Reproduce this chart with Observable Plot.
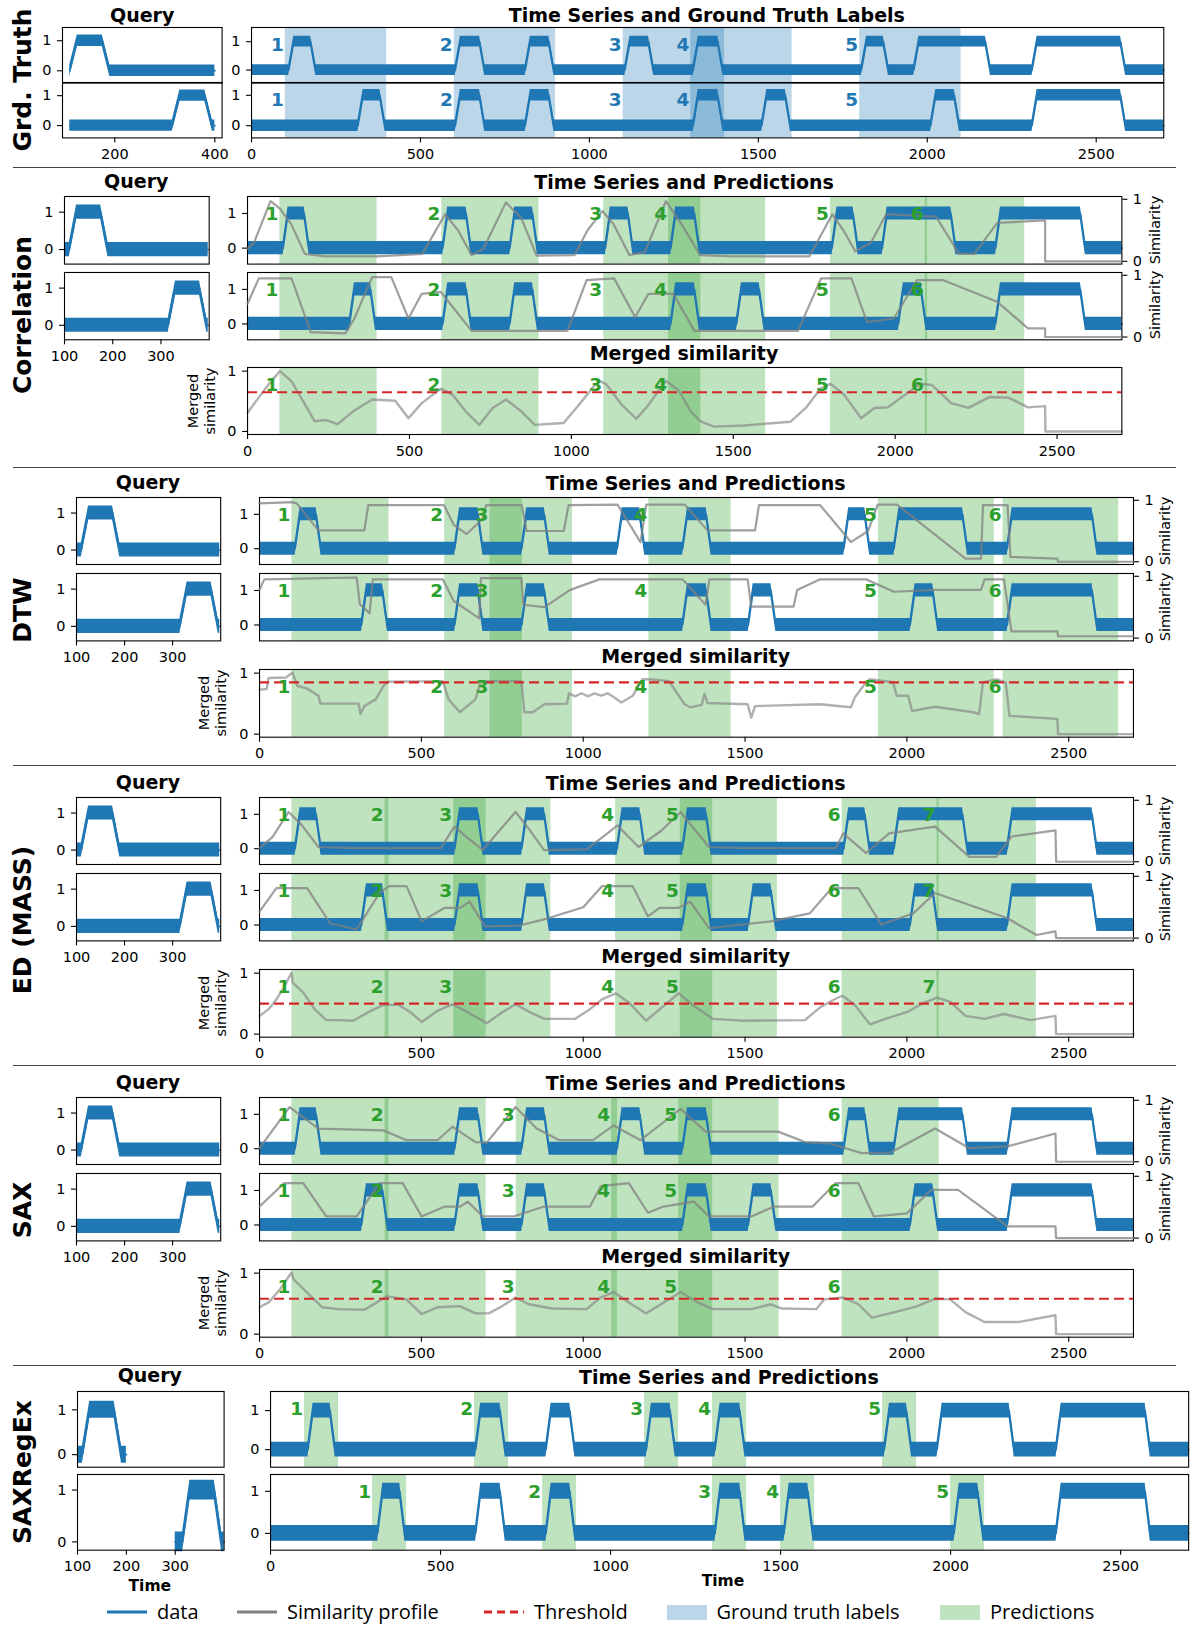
<!DOCTYPE html>
<html>
<head>
<meta charset="utf-8">
<script src="https://cdn.jsdelivr.net/npm/d3@7"></script>
<script src="https://cdn.jsdelivr.net/npm/@observablehq/plot@0.6"></script>
<style>
html,body{margin:0;padding:0;background:#fff;}
#fig{position:relative;width:1190px;height:1625px;overflow:hidden;background:#fff;font-family:"DejaVu Sans",sans-serif;color:#000;}
.txt{position:absolute;white-space:nowrap;line-height:1;transform:translate(-50%,-50%);}
.title{font-weight:bold;font-size:19px;}
.sec{font-weight:bold;font-size:25px;transform:translate(-50%,-50%) rotate(-90deg);}
.ylab{font-size:14.5px;transform:translate(-50%,-50%) rotate(-90deg);text-align:center;line-height:1.2;}
.xlab{font-weight:bold;font-size:15.5px;}
.sep{position:absolute;left:13px;width:1163px;height:0;border-top:1.4px solid #444;}
.leg{position:absolute;font-family:"Open Sans",sans-serif;font-size:20px;white-space:nowrap;line-height:1;transform:translateY(-50%);}
</style>
</head>
<body>
<div id="fig"></div>
<script>
// ---------------- DATA ----------------
// time series key points [time, value]
const seriesA = [[0,0],[110,0],[125,1],[175,1],[190,0],[603,0],[618,1],[675,1],[690,0],[810,0],[825,1],[880,1],[895,0],[1105,0],[1120,1],[1175,1],[1190,0],[1307,0],[1322,1],[1380,1],[1395,0],[1805,0],[1820,1],[1870,1],[1885,0],[1960,0],[1975,1],[2172,1],[2187,0],[2310,0],[2325,1],[2572,1],[2587,0],[2700,0]];
const seriesB = [[0,0],[315,0],[330,1],[380,1],[395,0],[603,0],[618,1],[675,1],[690,0],[810,0],[825,1],[880,1],[895,0],[1307,0],[1322,1],[1380,1],[1395,0],[1510,0],[1525,1],[1580,1],[1595,0],[2010,0],[2025,1],[2080,1],[2095,0],[2310,0],[2325,1],[2572,1],[2587,0],[2700,0]];
const noiseHalfWidth = 0.19;

// query windows (time ranges of the series)
const gtQueryRange = [110, 400];
const queryRange = [100, 398];
const regexQueryRangeA = [100, 200];
const regexQueryRangeB = [300, 400];

// labelled / predicted windows [start, end]
const gtSpans = [[100,400],[600,900],[1100,1400],[1300,1600],[1800,2100]];
const corrSpans = [[100,400],[600,900],[1100,1400],[1300,1600],[1800,2100],[2093,2400]];
const dtwSpans = [[100,400],[572,812],[712,967],[1203,1457],[1912,2270],[2297,2654]];
const edSpans = [[100,400],[388,700],[600,900],[1100,1400],[1300,1600],[1800,2100],[2093,2400]];
const saxSpans = [[100,400],[388,700],[793,1106],[1088,1400],[1295,1605],[1800,2100]];
const regexSpansA = [[100,200],[600,700],[1100,1200],[1300,1400],[1800,1900]];
const regexSpansB = [[300,400],[800,900],[1300,1400],[1500,1600],[2000,2100]];

// thresholds
const corrThreshold = 0.65, dtwThreshold = 0.85, edThreshold = 0.5, saxThreshold = 0.58;

// similarity profiles [time, similarity]
const corrSimA = [[0,0.2],[20,0.3],[71,0.97],[100,0.85],[135,0.6],[177,0.12],[240,0.08],[400,0.08],[540,0.12],[610,0.76],[650,0.5],[692,0.1],[728,0.2],[798,0.95],[845,0.7],[893,0.09],[1010,0.1],[1050,0.5],[1096,0.81],[1130,0.6],[1179,0.1],[1227,0.15],[1292,0.97],[1340,0.6],[1398,0.1],[1500,0.08],[1735,0.08],[1806,0.76],[1840,0.5],[1877,0.16],[1925,0.3],[1972,0.76],[2126,0.72],[2197,0.12],[2244,0.12],[2315,0.62],[2463,0.66],[2463,0],[2700,0]];
const corrSimB = [[0,0.54],[35,0.95],[136,0.95],[195,0.08],[302,0.06],[330,0.3],[385,0.97],[444,0.97],[497,0.3],[538,0.7],[597,0.73],[692,0.1],[988,0.1],[1047,0.92],[1132,0.95],[1197,0.32],[1238,0.7],[1315,0.7],[1380,0.1],[1700,0.1],[1771,0.95],[1865,0.95],[1913,0.24],[1996,0.3],[2067,0.92],[2149,0.92],[2315,0.57],[2410,0.14],[2463,0.14],[2463,0],[2700,0]];
const corrMerged = [[0,0.31],[41,0.61],[65,0.78],[100,1.0],[136,0.83],[172,0.5],[207,0.17],[243,0.19],[278,0.12],[325,0.33],[385,0.53],[456,0.51],[497,0.22],[538,0.47],[597,0.71],[633,0.61],[674,0.33],[716,0.11],[757,0.39],[798,0.53],[846,0.33],[887,0.11],[976,0.14],[1023,0.44],[1071,0.76],[1090,0.83],[1108,0.78],[1156,0.44],[1201,0.21],[1238,0.44],[1292,0.84],[1333,0.67],[1369,0.33],[1398,0.17],[1440,0.08],[1534,0.1],[1676,0.16],[1724,0.39],[1771,0.72],[1800,0.79],[1842,0.61],[1895,0.22],[1936,0.39],[1978,0.4],[2031,0.61],[2078,0.79],[2114,0.77],[2173,0.47],[2226,0.39],[2291,0.57],[2350,0.56],[2410,0.4],[2463,0.42],[2464,0],[2700,0]];

const dtwSimA = [[0,0.95],[100,0.97],[115,0.95],[182,0.51],[324,0.51],[336,0.92],[570,0.92],[600,0.6],[640,0.45],[690,0.7],[700,0.92],[810,0.92],[825,0.5],[940,0.5],[955,0.92],[1106,0.93],[1177,0.32],[1195,0.93],[1313,0.93],[1384,0.51],[1531,0.51],[1543,0.92],[1732,0.92],[1827,0.32],[1880,0.5],[1910,0.93],[1969,0.93],[2181,0.05],[2229,0.05],[2235,0.92],[2311,0.92],[2320,0.08],[2465,0.05],[2467,0],[2700,0]];
const dtwSimB = [[0,0.78],[15,0.95],[300,0.98],[310,0.55],[340,0.4],[350,0.95],[566,0.95],[600,0.6],[679,0.32],[684,0.97],[809,0.97],[815,0.54],[880,0.5],[960,0.78],[1050,0.95],[1307,0.95],[1378,0.54],[1390,0.95],[1508,0.95],[1519,0.51],[1650,0.51],[1661,0.78],[1732,0.95],[1874,0.95],[1960,0.75],[2087,0.78],[2229,0.78],[2240,0.95],[2300,0.95],[2323,0.11],[2465,0.11],[2467,0.03],[2700,0.03]];
const dtwMerged = [[0,0.73],[22,0.74],[28,0.92],[82,0.93],[102,1.01],[117,0.79],[147,0.75],[182,0.63],[188,0.5],[306,0.5],[312,0.33],[324,0.46],[359,0.57],[383,0.79],[397,0.86],[566,0.87],[584,0.57],[619,0.36],[667,0.57],[684,0.87],[809,0.87],[818,0.36],[844,0.36],[880,0.49],[950,0.5],[956,0.67],[975,0.62],[995,0.67],[1015,0.62],[1035,0.67],[1055,0.63],[1075,0.67],[1088,0.63],[1118,0.52],[1153,0.63],[1183,0.9],[1203,0.9],[1265,0.87],[1313,0.49],[1330,0.44],[1366,0.48],[1375,0.66],[1384,0.51],[1508,0.49],[1519,0.27],[1531,0.46],[1732,0.49],[1827,0.44],[1839,0.6],[1874,0.85],[1886,0.9],[1957,0.85],[1969,0.63],[2004,0.63],[2016,0.38],[2087,0.45],[2205,0.36],[2223,0.33],[2235,0.85],[2276,0.9],[2305,0.85],[2317,0.3],[2465,0.25],[2467,0],[2700,0]];

const edSimA = [[0,0.22],[40,0.4],[90,0.81],[130,0.6],[182,0.24],[300,0.22],[560,0.22],[602,0.57],[640,0.4],[690,0.19],[740,0.5],[791,0.81],[830,0.55],[879,0.19],[1010,0.2],[1060,0.4],[1106,0.59],[1171,0.24],[1240,0.5],[1301,0.81],[1340,0.55],[1389,0.24],[1500,0.22],[1780,0.22],[1803,0.46],[1874,0.14],[1945,0.46],[2087,0.57],[2193,0.08],[2276,0.08],[2323,0.41],[2459,0.51],[2461,0],[2700,0]];
const edSimB = [[0,0.43],[52,0.81],[147,0.81],[218,0.24],[300,0.14],[371,0.73],[400,0.84],[454,0.84],[501,0.27],[572,0.49],[620,0.49],[649,0.59],[696,0.19],[800,0.2],[891,0.32],[1000,0.5],[1058,0.84],[1153,0.84],[1200,0.35],[1236,0.49],[1295,0.49],[1330,0.59],[1389,0.16],[1579,0.27],[1700,0.4],[1768,0.81],[1850,0.81],[1921,0.22],[2020,0.4],[2087,0.73],[2311,0.32],[2400,0.05],[2459,0.11],[2461,0],[2700,0]];
const edMerged = [[0,0.3],[28,0.41],[52,0.57],[76,0.77],[99,1.01],[102,0.85],[135,0.68],[170,0.41],[206,0.23],[241,0.23],[289,0.22],[336,0.36],[383,0.48],[430,0.48],[466,0.36],[501,0.2],[549,0.38],[596,0.49],[643,0.36],[702,0.18],[750,0.36],[791,0.49],[832,0.37],[879,0.25],[974,0.25],[1021,0.41],[1058,0.57],[1100,0.67],[1141,0.52],[1194,0.22],[1248,0.46],[1295,0.67],[1342,0.46],[1401,0.25],[1496,0.22],[1685,0.23],[1732,0.44],[1780,0.58],[1801,0.63],[1839,0.48],[1886,0.16],[1933,0.25],[2004,0.37],[2051,0.51],[2093,0.6],[2134,0.53],[2181,0.3],[2240,0.25],[2300,0.33],[2382,0.23],[2459,0.3],[2461,0],[2700,0]];

const saxSimA = [[0,0.22],[93,0.89],[182,0.54],[383,0.51],[454,0.35],[550,0.35],[596,0.57],[667,0.32],[702,0.31],[791,0.89],[856,0.54],[927,0.35],[1030,0.35],[1094,0.59],[1177,0.35],[1301,0.86],[1378,0.49],[1602,0.49],[1685,0.32],[1760,0.3],[1860,0.14],[1950,0.15],[2087,0.54],[2193,0.22],[2311,0.25],[2459,0.46],[2461,0],[2700,0]];
const saxSimB = [[0,0.51],[76,0.89],[135,0.89],[206,0.35],[300,0.35],[371,0.89],[442,0.89],[501,0.35],[572,0.51],[620,0.51],[643,0.59],[690,0.35],[785,0.35],[879,0.51],[1021,0.51],[1054,0.84],[1141,0.89],[1200,0.41],[1248,0.51],[1342,0.59],[1389,0.35],[1519,0.35],[1590,0.51],[1709,0.51],[1780,0.89],[1850,0.89],[1898,0.35],[2000,0.4],[2075,0.78],[2158,0.78],[2311,0.19],[2459,0.19],[2461,0],[2700,0]];
const saxMerged = [[0,0.44],[28,0.52],[64,0.74],[99,1.01],[105,0.9],[147,0.68],[194,0.44],[241,0.41],[324,0.4],[371,0.55],[395,0.62],[454,0.57],[501,0.33],[549,0.44],[619,0.46],[667,0.34],[708,0.34],[750,0.46],[791,0.6],[832,0.49],[903,0.42],[1010,0.41],[1054,0.6],[1094,0.69],[1141,0.52],[1194,0.34],[1259,0.55],[1301,0.69],[1354,0.52],[1401,0.41],[1519,0.41],[1579,0.49],[1614,0.42],[1720,0.41],[1744,0.57],[1803,0.6],[1850,0.49],[1892,0.27],[1969,0.37],[2028,0.45],[2087,0.58],[2134,0.57],[2181,0.36],[2240,0.2],[2347,0.2],[2459,0.31],[2461,0],[2700,0]];

// ticks
const timeTicks = [0,500,1000,1500,2000,2500];
const gtQueryTicks = [200,400];
const queryTicks = [100,200,300];
const valueTicks = [0,1];

// text
const sectionNames = ["Grd. Truth","Correlation","DTW","ED (MASS)","SAX","SAXRegEx"];
const legendLabels = ["data","Similarity profile","Threshold","Ground truth labels","Predictions"];

// ---------------- LAYOUT / STYLE ----------------
const BLUE="#1f77b4", GREEN="#2ca02c", GRAY="#808080", RED="#d62728";
const TIME_DOMAIN=[0,2700], SIM_Y=[-0.045,1.045], MERGED_Y=[-0.05,1.06];
const MAIN_Y=[-0.46,1.49], QUERY_Y=[-0.39,1.42];
const fig = document.getElementById("fig");
const fmtInt = d3.format("d");

function shiftLay(l, dy, secY){
  const s = a => [a[0]+dy, a[1]+dy];
  return {...l, rowA:s(l.rowA), rowB:s(l.rowB), merged:s(l.merged), titleY:l.titleY+dy, mergedTitleY:l.mergedTitleY+dy, secY};
}
const LAY = {
  gt:{q:[62.4,222], m:[250.7,1163], rowA:[26.7,82.3], rowB:[82.3,137.7], titleY:14.5, secY:80},
  corr:{q:[63.9,208.6], m:[246.8,1121.2], rowA:[195.7,263.3], rowB:[271.7,339], merged:[367.3,434.3], titleY:181, mergedTitleY:353.3, secY:315, mergedLabX:201.8, simLabX:1156.4},
  dtw:{q:[75.8,220], m:[258.7,1132.7], rowA:[497.3,564.3], rowB:[573.3,640.7], merged:[669,736.7], titleY:482, mergedTitleY:655.7, secY:610, mergedLabX:213.4, simLabX:1166},
  regex:{q:[76.5,223.1], m:[269.8,1188], rowA:[1391,1466.7], rowB:[1474.3,1550], titleY:1376, secY:1471.7}
};
LAY.ed = shiftLay(LAY.dtw, 300, 920);
LAY.sax = shiftLay(LAY.dtw, 600, 1210);

function valueAt(series, t){
  for (let i=1;i<series.length;i++){
    const [t0,v0]=series[i-1], [t1,v1]=series[i];
    if (t<=t1) return t1===t0 ? v1 : v0+(v1-v0)*(t-t0)/(t1-t0);
  }
  return series[series.length-1][1];
}
function slice(series, r){
  return [[r[0], valueAt(series,r[0])], ...series.filter(d=>d[0]>r[0]&&d[0]<r[1]), [r[1], valueAt(series,r[1])]];
}

function addText(str, x, y, cls){
  const d = document.createElement("div");
  d.className = "txt " + cls;
  d.style.left = x+"px"; d.style.top = y+"px";
  d.innerHTML = str;
  fig.appendChild(d);
  return d;
}

const axisStyle = {tickSize: 5, tickPadding: 6, fontSize: 14.5, tickFormat: fmtInt, label: null, strokeWidth: 1.1};
function plotBox(xr, yr, o, marks){
  const ml=60, mr=60, mt=20, mb=40;
  const all = [...marks];
  if (o.xTicks) all.push(Plot.axisX({...axisStyle, ticks: o.xTicks}));
  if (o.yTicks) all.push(Plot.axisY({...axisStyle, ticks: o.yTicks, anchor: o.yAxis || "left"}));
  const svg = Plot.plot({
    width: xr[1]-xr[0]+ml+mr, height: yr[1]-yr[0]+mt+mb,
    marginLeft: ml, marginRight: mr, marginTop: mt, marginBottom: mb,
    style: {fontFamily:'"DejaVu Sans", sans-serif', fontSize:"14.5px", color:"#000", background:"transparent", overflow:"visible"},
    x: {domain: o.xDomain, axis: null},
    y: {domain: o.yDomain, axis: null},
    marks: all
  });
  svg.style.position = "absolute";
  svg.style.left = (xr[0]-ml)+"px";
  svg.style.top = (yr[0]-mt)+"px";
  svg.style.maxWidth = "none";
  fig.appendChild(svg);
}

const frame = () => Plot.frame({stroke:"#000", strokeWidth:1.1});
function dataMarks(s){
  return [
    Plot.area(s, {x1: d=>d[0], y1: d=>d[1]-noiseHalfWidth, y2: d=>d[1]+noiseHalfWidth, fill: BLUE, fillOpacity: 1}),
    Plot.line(s, {x: d=>d[0], y: d=>d[1], stroke: BLUE, strokeWidth: 1.8})
  ];
}
function spanMarks(spans, color, yd){
  return Plot.rect(spans, {x1: d=>d[0], x2: d=>d[1], y1: () => yd[0], y2: () => yd[1], fill: color, fillOpacity: 0.3});
}
function numberMarks(spans, color){
  return Plot.text(spans, {x: d=>d[0], text: (d,i)=>String(i+1), frameAnchor:"top", dy: 10, dx: -1.5, textAnchor:"end", fill: color, fontWeight:"bold", fontSize: 18.5});
}

function queryPanel(L, row, s, qDomain, yd, ticks){
  plotBox(L.q, row, {xDomain: qDomain, yDomain: yd, xTicks: ticks, yTicks: valueTicks}, [...dataMarks(s), frame()]);
}

// ---------------- Ground truth section ----------------
(function(){
  const L = LAY.gt;
  const qd = [95.5, 414.5];
  queryPanel(L, L.rowA, slice(seriesA, gtQueryRange), qd, [-0.41,1.44], null);
  queryPanel(L, L.rowB, slice(seriesB, gtQueryRange), qd, [-0.41,1.44], gtQueryTicks);
  const ydA=[-0.46,1.5], ydB=[-0.4,1.42];
  plotBox(L.m, L.rowA, {xDomain: TIME_DOMAIN, yDomain: ydA, yTicks: valueTicks},
    [spanMarks(gtSpans, BLUE, ydA), ...dataMarks(seriesA), numberMarks(gtSpans, BLUE), frame()]);
  plotBox(L.m, L.rowB, {xDomain: TIME_DOMAIN, yDomain: ydB, xTicks: timeTicks, yTicks: valueTicks},
    [spanMarks(gtSpans, BLUE, ydB), ...dataMarks(seriesB), numberMarks(gtSpans, BLUE), frame()]);
  addText("Query", (L.q[0]+L.q[1])/2, L.titleY, "title");
  addText("Time Series and Ground Truth Labels", (L.m[0]+L.m[1])/2, L.titleY+0.5, "title");
  addText(sectionNames[0], 22, L.secY, "sec");
})();

// ---------------- Method sections ----------------
const methods = [
  {name: sectionNames[1], L: LAY.corr, spans: corrSpans, simA: corrSimA, simB: corrSimB, merged: corrMerged, thr: corrThreshold},
  {name: sectionNames[2], L: LAY.dtw, spans: dtwSpans, simA: dtwSimA, simB: dtwSimB, merged: dtwMerged, thr: dtwThreshold},
  {name: sectionNames[3], L: LAY.ed, spans: edSpans, simA: edSimA, simB: edSimB, merged: edMerged, thr: edThreshold},
  {name: sectionNames[4], L: LAY.sax, spans: saxSpans, simA: saxSimA, simB: saxSimB, merged: saxMerged, thr: saxThreshold}
];
for (const M of methods){
  const L = M.L;
  const qd = [100, 400];
  queryPanel(L, L.rowA, slice(seriesA, queryRange), qd, QUERY_Y, null);
  queryPanel(L, L.rowB, slice(seriesB, queryRange), qd, QUERY_Y, queryTicks);
  [[L.rowA, seriesA, M.simA], [L.rowB, seriesB, M.simB]].forEach(([row, s, sim]) => {
    plotBox(L.m, row, {xDomain: TIME_DOMAIN, yDomain: MAIN_Y, yTicks: valueTicks},
      [spanMarks(M.spans, GREEN, MAIN_Y), ...dataMarks(s), frame()]);
    plotBox(L.m, row, {xDomain: TIME_DOMAIN, yDomain: SIM_Y, yTicks: valueTicks, yAxis: "right"},
      [Plot.line(sim, {x: d=>d[0], y: d=>d[1], stroke: GRAY, strokeWidth: 2.2, strokeOpacity: 0.75}),
       numberMarks(M.spans, GREEN)]);
    addText("Similarity", L.simLabX, (row[0]+row[1])/2, "ylab");
  });
  plotBox(L.m, L.merged, {xDomain: TIME_DOMAIN, yDomain: MERGED_Y, xTicks: timeTicks, yTicks: valueTicks},
    [spanMarks(M.spans, GREEN, MERGED_Y),
     Plot.line(M.merged, {x: d=>d[0], y: d=>d[1], stroke: GRAY, strokeWidth: 2.4, strokeOpacity: 0.62}),
     Plot.ruleY([M.thr], {stroke: RED, strokeWidth: 2.2, strokeDasharray: "10,5"}),
     numberMarks(M.spans, GREEN), frame()]);
  addText("Query", (L.q[0]+L.q[1])/2, L.titleY, "title");
  addText("Time Series and Predictions", (L.m[0]+L.m[1])/2, L.titleY+1, "title");
  addText("Merged similarity", (L.m[0]+L.m[1])/2, L.mergedTitleY, "title");
  addText("Merged<br>similarity", L.mergedLabX, (L.merged[0]+L.merged[1])/2, "ylab");
  addText(M.name, 22, L.secY, "sec");
}

// ---------------- SAXRegEx section ----------------
(function(){
  const L = LAY.regex;
  const qd = [100, 400];
  queryPanel(L, L.rowA, slice(seriesA, regexQueryRangeA), qd, [-0.28,1.41], null);
  queryPanel(L, L.rowB, slice(seriesB, regexQueryRangeB), qd, [-0.16,1.30], queryTicks);
  const ydA=[-0.45,1.49], ydB=[-0.40,1.40];
  plotBox(L.m, L.rowA, {xDomain: TIME_DOMAIN, yDomain: ydA, yTicks: valueTicks},
    [spanMarks(regexSpansA, GREEN, ydA), ...dataMarks(seriesA), numberMarks(regexSpansA, GREEN), frame()]);
  plotBox(L.m, L.rowB, {xDomain: TIME_DOMAIN, yDomain: ydB, xTicks: timeTicks, yTicks: valueTicks},
    [spanMarks(regexSpansB, GREEN, ydB), ...dataMarks(seriesB), numberMarks(regexSpansB, GREEN), frame()]);
  addText("Query", (L.q[0]+L.q[1])/2, L.titleY-1, "title");
  addText("Time Series and Predictions", (L.m[0]+L.m[1])/2, L.titleY+0.7, "title");
  addText("Time", (L.q[0]+L.q[1])/2, 1587, "xlab");
  addText("Time", 723, 1582, "xlab");
  addText(sectionNames[5], 22, L.secY, "sec");
})();

// ---------------- separators ----------------
[167, 467, 765, 1065, 1365].forEach(y => {
  const d = document.createElement("div"); d.className = "sep"; d.style.top = y+"px"; fig.appendChild(d);
});

// ---------------- legend ----------------
const legendX = [107, 237, 484, 666.5, 940];
const legendKinds = ["line","line","dash","patch","patch"];
const legendColors = [BLUE, GRAY, RED, BLUE, GREEN];
const legendY = 1611.5;
legendLabels.forEach((lab, i) => {
  const sw = document.createElementNS("http://www.w3.org/2000/svg","svg");
  sw.setAttribute("width", 42); sw.setAttribute("height", 18);
  sw.style.position = "absolute"; sw.style.left = legendX[i]+"px"; sw.style.top = (legendY-9)+"px";
  if (legendKinds[i] === "patch"){
    const r = document.createElementNS("http://www.w3.org/2000/svg","rect");
    r.setAttribute("x",0); r.setAttribute("y",2); r.setAttribute("width",40); r.setAttribute("height",15);
    r.setAttribute("fill", legendColors[i]); r.setAttribute("fill-opacity", 0.3);
    sw.appendChild(r);
  } else {
    const l = document.createElementNS("http://www.w3.org/2000/svg","line");
    l.setAttribute("x1",0); l.setAttribute("x2",40); l.setAttribute("y1",9); l.setAttribute("y2",9);
    l.setAttribute("stroke", legendColors[i]); l.setAttribute("stroke-width", 3);
    if (legendKinds[i] === "dash") l.setAttribute("stroke-dasharray","8,5");
    sw.appendChild(l);
  }
  fig.appendChild(sw);
  const t = document.createElement("div");
  t.className = "leg"; t.textContent = lab;
  t.style.left = (legendX[i]+50)+"px"; t.style.top = legendY+"px";
  fig.appendChild(t);
});
</script>
</body>
</html>
